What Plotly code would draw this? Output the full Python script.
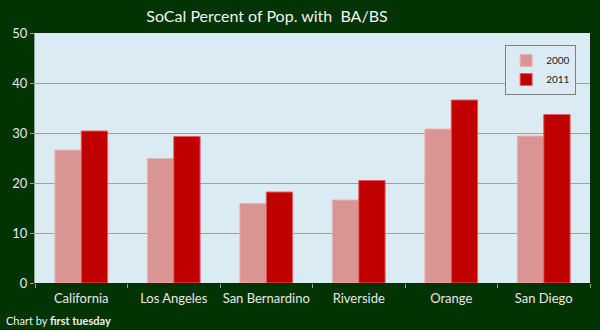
import plotly.graph_objects as go

categories = ["California", "Los Angeles", "San Bernardino", "Riverside", "Orange", "San Diego"]
values_2000 = [26.6, 24.9, 15.9, 16.6, 30.8, 29.4]
values_2011 = [30.4, 29.3, 18.2, 20.5, 36.6, 33.7]
y_ticks = [0, 10, 20, 30, 40, 50]

fig = go.Figure()
fig.add_trace(go.Bar(name="2000", x=categories, y=values_2000,
                     marker=dict(color="#d99594", line=dict(color="#e8b4b3", width=1))))
fig.add_trace(go.Bar(name="2011", x=categories, y=values_2011,
                     marker=dict(color="#c00000", line=dict(color="#e06060", width=1))))

font_family = "Lato, Open Sans, sans-serif"
fig.update_layout(
    width=600, height=330,
    margin=dict(l=35, r=10, t=33, b=47),
    paper_bgcolor="#023302",
    plot_bgcolor="#dbebf3",
    barmode="group",
    bargap=0.43,
    bargroupgap=0,
    title=dict(text="SoCal Percent of Pop. with  BA/BS", x=0.445, xanchor="center",
               xref="container", y=0.95, yanchor="middle",
               font=dict(family=font_family, size=16, color="#f2f2f2")),
    legend=dict(x=0.975, y=0.952, xanchor="right", yanchor="top",
                bgcolor="#dbebf3", bordercolor="#7f7f7f", borderwidth=1,
                font=dict(family=font_family, size=10, color="#222222"),
                itemwidth=30, tracegroupgap=0),
    showlegend=True,
)
fig.update_yaxes(range=[0, 50], tickvals=y_ticks, showgrid=True, gridcolor="#a0a0a0",
                 gridwidth=1, ticks="outside", ticklen=4, tickcolor="#a0a0a0",
                 showline=True, linecolor="#a0a0a0", automargin=False,
                 tickfont=dict(family=font_family, size=13, color="#e8e8e8"),
                 zeroline=False)
fig.update_xaxes(showline=False, ticks="outside", tickson="boundaries", ticklen=4,
                 tickcolor="#a0a0a0", ticklabelstandoff=6, tickangle=0, automargin=False,
                 tickfont=dict(family=font_family, size=13, color="#e8e8e8"))

fig.add_annotation(text="Chart by <b>first tuesday</b>", xref="paper", yref="paper",
                   x=-0.055, y=-0.115, xanchor="left", yanchor="top", showarrow=False,
                   font=dict(family=font_family, size=11, color="#f0f0f0"))

fig.write_html("out.html")
